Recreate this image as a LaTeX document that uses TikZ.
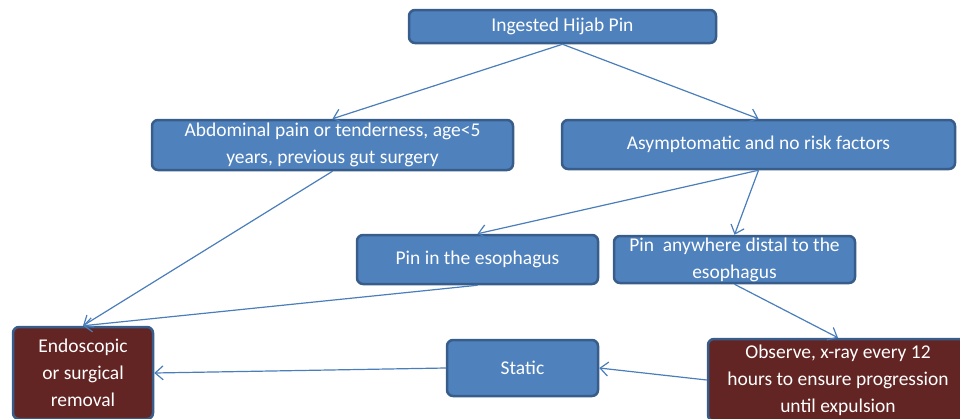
\documentclass[tikz,border=0pt]{standalone}
\usepackage{fontspec}
\setmainfont{Carlito}
\usetikzlibrary{arrows.meta}
\definecolor{boxblue}{HTML}{4F81BD}
\definecolor{boxedge}{HTML}{385D8A}
\definecolor{boxred}{HTML}{632523}
\definecolor{arrowblue}{HTML}{4A7EBB}
\begin{document}
\begin{tikzpicture}[x=1pt, y=-1pt,
    every node/.style={font=\fontsize{19.5}{27}\selectfont, text=white, align=center},
    bluebox/.style={draw=boxedge, fill=boxblue, line width=2.5pt, rounded corners=6pt, inner sep=0pt},
    redbox/.style={bluebox, fill=boxred},
    link/.style={draw=arrowblue, line width=1.2pt, -{Straight Barb[length=8pt,width=14pt]}}]
    \useasboundingbox (0,0) rectangle (960,418);

    % Boxes
    \node[bluebox, minimum width=307pt, minimum height=33pt] (ingest) at (562.5,26.5) {Ingested Hijab Pin};
    \node[bluebox, minimum width=361pt, minimum height=50pt] (abd) at (332.5,145) {Abdominal pain or tenderness, age<5\\ years, previous gut surgery};
    \node[bluebox, minimum width=393pt, minimum height=49pt] (asym) at (758.5,144.5) {Asymptomatic and no risk factors};
    \node[bluebox, minimum width=241pt, minimum height=49pt] (eso) at (477.5,259.5) {Pin in the esophagus};
    \node[bluebox, minimum width=241pt, minimum height=47pt] (dist) at (734.5,259.5) {Pin\ \ anywhere distal to the\\ esophagus};
    \node[redbox, minimum width=140pt, minimum height=92pt] (endo) at (83,373) {Endoscopic\\ or surgical\\ removal};
    \node[bluebox, minimum width=151pt, minimum height=56pt] (static) at (522.5,368) {Static};
    \node[redbox, minimum width=260pt, minimum height=82pt] (obs) at (838,380) {Observe, x-ray every 12\\ hours to ensure progression\\ until expulsion};

    % Connectors
    \draw[link] (ingest.south) -- (abd.north);
    \draw[link] (ingest.south) -- (asym.north);
    \draw[link] (asym.south) -- (eso.north);
    \draw[link] (asym.south) -- (dist.north);
    \draw[link] (abd.south) -- (endo.north);
    \draw[link] (eso.south) -- (endo.north);
    \draw[link] (dist.south) -- (obs.north);
    \draw[link] (obs.west) -- (static.east);
    \draw[link] (static.west) -- (endo.east);
\end{tikzpicture}
\end{document}
